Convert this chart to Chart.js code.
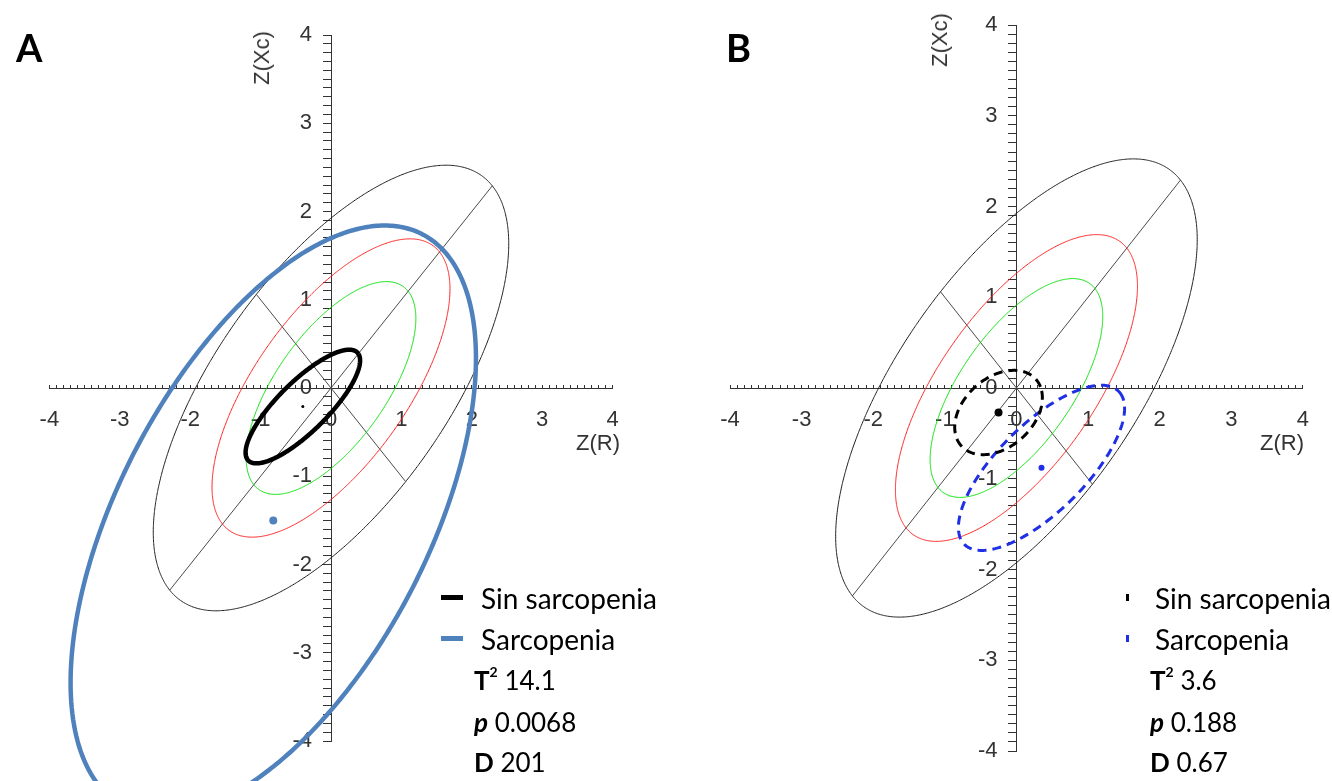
<!DOCTYPE html>
<html><head><meta charset="utf-8">
<script src="https://cdn.jsdelivr.net/npm/chart.js@4.4.0/dist/chart.umd.min.js"></script>
<style>
html,body{margin:0;padding:0;background:#fff;width:1332px;height:781px;overflow:hidden;}
canvas{position:absolute;left:0;top:0;}
.t{position:absolute;white-space:nowrap;font-family:Lato,'Noto Sans',sans-serif;color:#000;line-height:1;font-size:26px;}
.n{font-size:28px;}
.ax{position:absolute;white-space:nowrap;font-family:'Liberation Sans',Arial,sans-serif;color:#333;font-size:22px;line-height:1;}
.lt{position:absolute;font-family:Lato,'Noto Sans',sans-serif;font-weight:bold;font-size:38px;line-height:1;}
.mk{position:absolute;}
b{font-weight:bold}
sup{font-size:14px;font-weight:bold;vertical-align:top;position:relative;top:-2px;}
</style></head><body>
<canvas id="cA" width="1332" height="781"></canvas>
<canvas id="cB" width="1332" height="781"></canvas>
<div id="txt"></div>
<script>
// ---------- data ----------
const tickRange = [-4, 4];
const groupNames = ['Sin sarcopenia', 'Sarcopenia'];
// reference tolerance ellipses (50 %, 75 %, 95 %), centred on 0, tilted 45°
const refSemiMajor = [1.55, 2.18, 3.24];
const refSemiMinor = [0.71, 0.98, 1.50];
const refAngle = 45;
// panel A group ellipses
const groupA_cx = [-0.40, -0.82];
const groupA_cy = [-0.21, -1.50];
const groupA_major = [0.99, 3.90];
const groupA_minor = [0.31, 2.06];
const groupA_angle = [36.9, 52.6];
// panel B group ellipses
const groupB_cx = [-0.25, 0.35];
const groupB_cy = [-0.27, -0.88];
const groupB_major = [0.65, 1.375];
const groupB_minor = [0.41, 0.533];
const groupB_angle = [25.7, 35.6];
// statistics
const statsA = ['14.1', '0.0068', '201'];
const statsB = ['3.6', '0.188', '0.67'];

// ---------- helpers ----------
function ellipsePts(cx, cy, a, b, deg) {
  const th = deg * Math.PI / 180, pts = [];
  for (let i = 0; i <= 240; i++) {
    const t = i / 240 * 2 * Math.PI;
    const u = a * Math.cos(t), v = b * Math.sin(t);
    pts.push({x: cx + u * Math.cos(th) - v * Math.sin(th), y: cy + u * Math.sin(th) + v * Math.cos(th)});
  }
  return pts;
}
function axisSeg(len, deg) {
  const th = deg * Math.PI / 180;
  return [{x: -len * Math.cos(th), y: -len * Math.sin(th)}, {x: len * Math.cos(th), y: len * Math.sin(th)}];
}
function lineDs(data, color, width, extra) {
  return Object.assign({type: 'scatter', data, showLine: true, borderColor: color, backgroundColor: color,
    borderWidth: width, pointRadius: 0, tension: 0.05, capBezierPoints: false, fill: false,
    borderJoinStyle: 'round'}, extra || {});
}
function refDatasets() {
  const cols = ['#00e000', '#ff1a1a', '#1a1a1a'];
  const ds = [];
  for (let i = 0; i < refSemiMajor.length; i++) {
    ds.push(lineDs(ellipsePts(0, 0, refSemiMajor[i], refSemiMinor[i], refAngle), cols[i], 1));
  }
  const last = refSemiMajor.length - 1;
  ds.push(lineDs(axisSeg(refSemiMajor[last], refAngle), '#4a4a4a', 1, {tension: 0}));
  ds.push(lineDs(axisSeg(refSemiMinor[last], refAngle + 90), '#4a4a4a', 1, {tension: 0}));
  return ds;
}
const intLabel = v => (Math.abs(v - Math.round(v)) < 1e-6 ? String(Math.round(v)) : '');
function scales() {
  const font = {family: "'Liberation Sans', Arial, sans-serif", size: 22};
  return {
    x: {type: 'linear', min: tickRange[0], max: tickRange[1], position: 'center',
      grid: {drawOnChartArea: false, drawTicks: true, tickLength: -4, tickColor: '#333', tickWidth: 1},
      border: {display: true, color: '#333', width: 1},
      ticks: {stepSize: 0.1, autoSkip: false, maxRotation: 0, minRotation: 0, padding: 23, color: '#333', font, callback: intLabel}},
    y: {type: 'linear', min: tickRange[0], max: tickRange[1], position: 'center',
      grid: {drawOnChartArea: false, drawTicks: true, tickLength: 8, tickColor: '#333', tickWidth: 1},
      border: {display: true, color: '#333', width: 1},
      ticks: {stepSize: 0.1, autoSkip: false, padding: 11, color: '#333', font, callback: intLabel}}
  };
}
function makeChart(id, datasets, pad) {
  return new Chart(document.getElementById(id), {
    type: 'scatter',
    data: {datasets},
    options: {
      responsive: false, animation: false, events: [],
      layout: {padding: pad},
      plugins: {legend: {display: false}, tooltip: {enabled: false}},
      scales: scales()
    }
  });
}

// ---------- panel A ----------
const dsA = [
  lineDs(ellipsePts(groupA_cx[0], groupA_cy[0], groupA_major[0], groupA_minor[0], groupA_angle[0]), '#000', 4.5),
  lineDs(ellipsePts(groupA_cx[1], groupA_cy[1], groupA_major[1], groupA_minor[1], groupA_angle[1]), '#4f81bd', 4.5, {clip: false}),
  {type: 'scatter', data: [{x: groupA_cx[0], y: groupA_cy[0]}], pointRadius: 1.5, backgroundColor: '#000', borderWidth: 0},
  {type: 'scatter', data: [{x: groupA_cx[1], y: groupA_cy[1]}], pointRadius: 4, backgroundColor: '#4f81bd', borderWidth: 0},
  ...refDatasets()
];
makeChart('cA', dsA, {left: 49.4, right: 1332 - 612.6, top: 35, bottom: 781 - 741});

// ---------- panel B ----------
const dsB = [
  lineDs(ellipsePts(groupB_cx[0], groupB_cy[0], groupB_major[0], groupB_minor[0], groupB_angle[0]), '#000', 3, {borderDash: [9, 6], tension: 0}),
  lineDs(ellipsePts(groupB_cx[1], groupB_cy[1], groupB_major[1], groupB_minor[1], groupB_angle[1]), '#1f2fe6', 3, {borderDash: [9, 6], tension: 0}),
  {type: 'scatter', data: [{x: groupB_cx[0], y: groupB_cy[0]}], pointRadius: 4, backgroundColor: '#000', borderWidth: 0},
  {type: 'scatter', data: [{x: groupB_cx[1], y: groupB_cy[1]}], pointRadius: 3, backgroundColor: '#1f2fe6', borderWidth: 0},
  ...refDatasets()
];
makeChart('cB', dsB, {left: 730, right: 1332 - 1303, top: 25, bottom: 781 - 751});

// ---------- texts ----------
const txt = document.getElementById('txt');
function add(html, cls, style) {
  const d = document.createElement('div');
  d.className = cls; d.innerHTML = html; d.setAttribute('style', style); txt.appendChild(d);
}
function panelTexts(letter, lx, yAxisTitle, xTitle, legX, statX, mk, stats, markerColors) {
  add(letter, 'lt', `left:${lx}px;top:28px;`);
  add('Z(Xc)', 'ax', `left:${yAxisTitle[0]}px;top:${yAxisTitle[1]}px;transform:translate(-50%,-50%) rotate(-90deg);`);
  add('Z(R)', 'ax', `left:${xTitle[0]}px;top:${xTitle[1]}px;transform:translate(-50%,-50%);`);
  add(groupNames[0], 't n', `left:${legX}px;top:584px;`);
  add(groupNames[1], 't n', `left:${legX}px;top:625px;`);
  add(`<b>T</b><sup>2</sup> ${stats[0]}`, 't', `left:${statX}px;top:667px;`);
  add(`<b><i>p</i></b> ${stats[1]}`, 't', `left:${statX}px;top:709px;`);
  add(`<b>D</b> ${stats[2]}`, 't', `left:${statX}px;top:749px;`);
  add('', 'mk', `left:${mk[0]}px;top:${595 - mk[2] / 2 + 2}px;width:${mk[1]}px;height:${mk[2]}px;background:${markerColors[0]};`);
  add('', 'mk', `left:${mk[0]}px;top:${636 - mk[2] / 2 + 2}px;width:${mk[1]}px;height:${mk[2]}px;background:${markerColors[1]};`);
}
panelTexts('A', 16, [262, 58], [598, 443], 481, 474, [441, 22, 5], statsA, ['#000', '#4f81bd']);
panelTexts('B', 726, [940, 40], [1282, 443], 1155, 1150, [1126, 3, 7], statsB, ['#000', '#1f2fe6']);
</script>
</body></html>
